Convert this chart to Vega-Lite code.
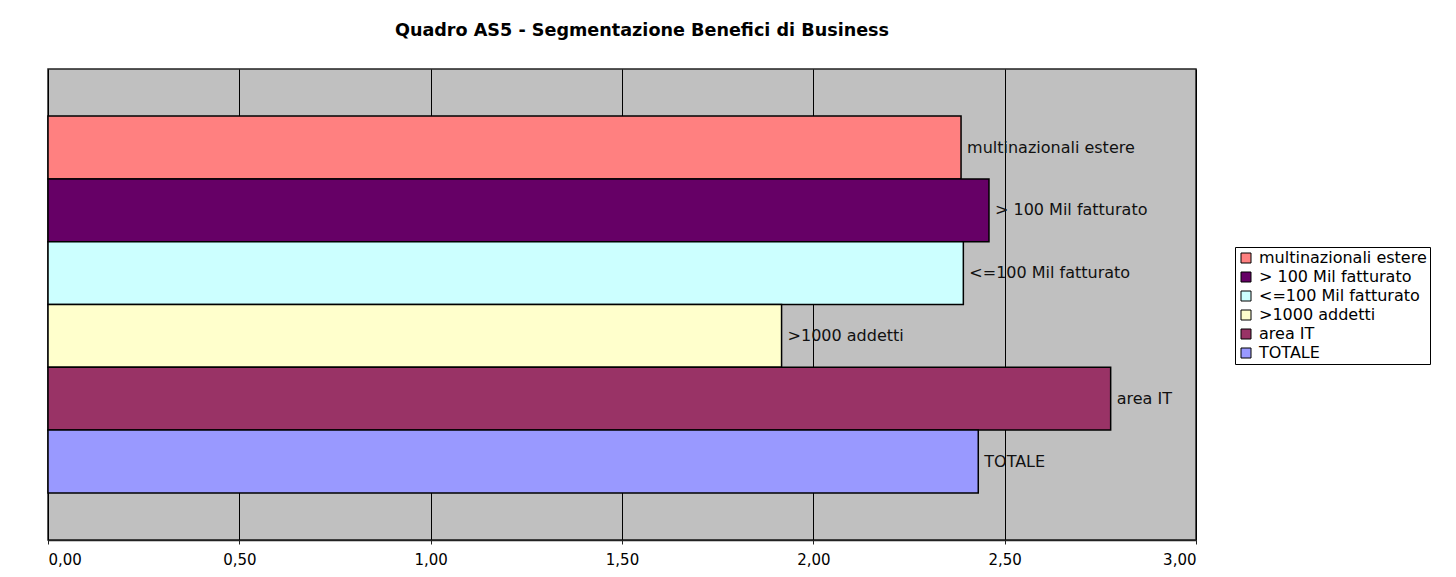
{
  "$schema": "https://vega.github.io/schema/vega-lite/v6.json",
  "width": 1148,
  "height": 471,
  "autosize": {"type": "none"},
  "padding": {"left": 48, "top": 69, "right": 260, "bottom": 37},
  "background": "white",
  "title": {
    "text": "Quadro AS5 - Segmentazione Benefici di Business",
    "font": "DejaVu Sans",
    "fontSize": 17.6,
    "fontWeight": "bold",
    "color": "black",
    "anchor": "middle",
    "baseline": "alphabetic",
    "offset": 15,
    "dx": 20
  },
  "data": {
    "values": [
      {"serie": "multinazionali estere", "valore": 2.386},
      {"serie": "> 100 Mil fatturato", "valore": 2.459},
      {"serie": "<=100 Mil fatturato", "valore": 2.392},
      {"serie": ">1000 addetti", "valore": 1.917},
      {"serie": "area IT", "valore": 2.777},
      {"serie": "TOTALE", "valore": 2.431}
    ]
  },
  "encoding": {
    "y": {
      "field": "serie",
      "type": "nominal",
      "sort": ["multinazionali estere", "> 100 Mil fatturato", "<=100 Mil fatturato", ">1000 addetti", "area IT", "TOTALE"],
      "scale": {"paddingInner": 0, "paddingOuter": 0.75},
      "axis": null
    },
    "x": {
      "field": "valore",
      "type": "quantitative",
      "scale": {"domain": [0, 3], "nice": false, "zero": true},
      "axis": {
        "title": null,
        "values": [0, 0.5, 1, 1.5, 2, 2.5, 3],
        "labelExpr": "replace(format(datum.value, '.2f'), '.', ',')",
        "grid": true,
        "gridColor": "black",
        "gridWidth": 1,
        "gridOpacity": 1,
        "domain": true,
        "domainColor": "#222",
        "domainWidth": 1.5,
        "tickColor": "#222",
        "tickSize": 4,
        "tickWidth": 1,
        "labelFont": "DejaVu Sans",
        "labelFontSize": 15,
        "labelColor": "black",
        "labelPadding": 8
      }
    }
  },
  "layer": [
    {
      "mark": {"type": "bar", "stroke": "black", "strokeWidth": 1.5, "opacity": 1},
      "encoding": {
        "color": {
          "field": "serie",
          "type": "nominal",
          "scale": {
            "domain": ["multinazionali estere", "> 100 Mil fatturato", "<=100 Mil fatturato", ">1000 addetti", "area IT", "TOTALE"],
            "range": ["#FF8080", "#660066", "#CCFFFF", "#FFFFCC", "#993366", "#9999FF"]
          },
          "legend": {
            "title": null,
            "orient": "none",
            "legendX": 1187,
            "legendY": 178,
            "symbolType": "square",
            "symbolSize": 100,
            "symbolStrokeColor": "black",
            "symbolStrokeWidth": 1,
            "symbolOpacity": 1,
            "labelFont": "DejaVu Sans",
            "labelFontSize": 16,
            "labelColor": "black",
            "labelOffset": 5,
            "labelLimit": 400,
            "rowPadding": 3,
            "padding": 3,
            "strokeColor": "black",
            "fillColor": "white"
          }
        }
      }
    },
    {
      "mark": {"type": "text", "align": "left", "baseline": "middle", "dx": 6, "font": "DejaVu Sans", "fontSize": 16, "color": "#111"},
      "encoding": {"text": {"field": "serie", "type": "nominal"}}
    }
  ],
  "config": {
    "view": {"fill": "#C0C0C0", "stroke": "#222", "strokeWidth": 1.5}
  }
}
